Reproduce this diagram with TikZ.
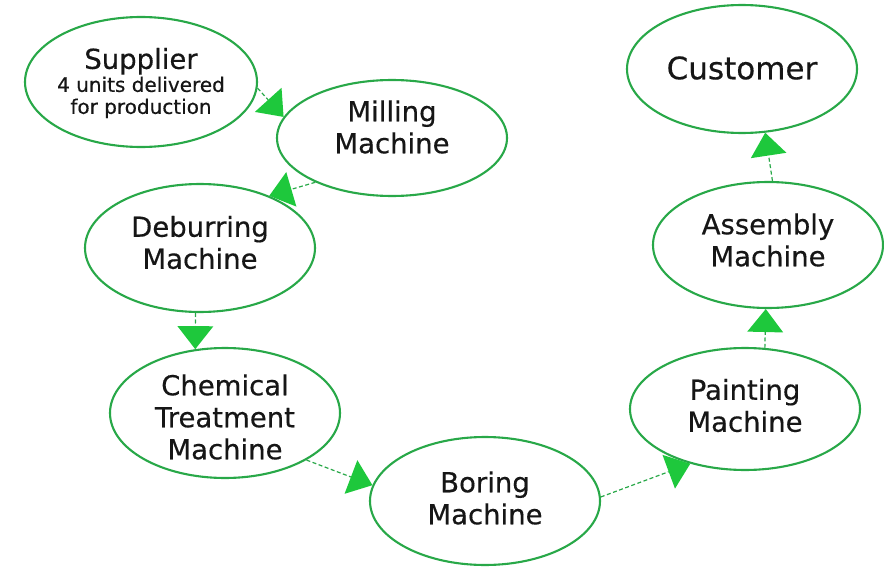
\documentclass[tikz,border=0pt]{standalone}
\usepackage{fontspec}
\setmainfont[FakeBold=0.4]{DejaVu Sans}
\usetikzlibrary{shapes.geometric,arrows.meta}
\definecolor{rimgreen}{RGB}{40,168,72}
\definecolor{tipgreen}{RGB}{30,200,60}
\definecolor{inkgray}{RGB}{22,22,22}
\tikzset{
  station/.style={ellipse, draw=rimgreen, line width=2.1pt, fill=white, inner sep=0pt},
  caption/.style={align=center, text=inkgray, inner sep=0pt,
    font=\fontsize{27.5}{32}\selectfont},
  flow/.style={draw=rimgreen, line width=1.2pt, dash pattern=on 4pt off 2.5pt,
    -{Triangle[length=23pt,width=36pt,color=tipgreen,fill=tipgreen,line width=0pt,sep=0pt]}}
}
\begin{document}
\begin{tikzpicture}[x=1pt,y=-1pt]
  \useasboundingbox (0,0) rectangle (884,578);

  % stations along the production route
  \node[station, minimum width=232pt, minimum height=130pt] (sup) at (141,82) {};
  \node[station, minimum width=230pt, minimum height=116pt] (mill) at (392,138) {};
  \node[station, minimum width=230pt, minimum height=128pt] (deb) at (200,248) {};
  \node[station, minimum width=230pt, minimum height=130pt] (chem) at (225,413) {};
  \node[station, minimum width=230pt, minimum height=128pt] (bore) at (485,501) {};
  \node[station, minimum width=230pt, minimum height=122pt] (paint) at (745,409) {};
  \node[station, minimum width=230pt, minimum height=126pt] (asm) at (768,245) {};
  \node[station, minimum width=230pt, minimum height=128pt] (cust) at (742,69) {};

  % station captions
  \node[caption] (sup-t) at ([yshift=-1pt]sup.center)
    {Supplier\\[-9pt]{\fontsize{20}{22}\selectfont 4 units delivered}\\[-10pt]{\fontsize{20}{22}\selectfont for production}};
  \node[caption] (mill-t) at ([yshift=11pt]mill.center) {Milling\\Machine};
  \node[caption] (deb-t) at ([yshift=5.5pt]deb.center) {Deburring\\Machine};
  \node[caption] (chem-t) at ([yshift=-4pt]chem.center) {Chemical\\Treatment\\Machine};
  \node[caption] (bore-t) at ([yshift=3pt]bore.center) {Boring\\Machine};
  \node[caption] (paint-t) at ([yshift=3.5pt]paint.center) {Painting\\Machine};
  \node[caption] (asm-t) at ([yshift=5pt]asm.center) {Assembly\\Machine};
  \node[caption, font=\fontsize{31}{36}\selectfont] (cust-t) at ([yshift=1pt]cust.center) {Customer};

  % material flow
  \draw[flow] (sup.-3)    -- (mill.169);
  \draw[flow] (mill.210)  -- (deb.37);
  \draw[flow] (deb.-94.5) -- (chem.115);
  \draw[flow] (chem.-30)  -- (bore.172);
  \draw[flow] (bore.2)    -- (paint.225);
  \draw[flow] (paint.72)  -- (asm.-92.7);
  \draw[flow] (asm.86)    -- (cust.-70);
\end{tikzpicture}
\end{document}
